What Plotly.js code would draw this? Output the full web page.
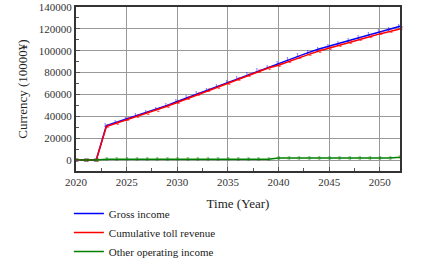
<!DOCTYPE html>
<html><head><meta charset="utf-8">
<script src="https://cdn.plot.ly/plotly-3.0.1.min.js"></script>
<style>html,body{margin:0;padding:0;background:#fff}#c{width:433px;height:273px}</style>
</head><body><div id="c"></div>
<script>
const years = [2020,2021,2022,2023,2024,2025,2026,2027,2028,2029,2030,2031,2032,2033,2034,2035,2036,2037,2038,2039,2040,2041,2042,2043,2044,2045,2046,2047,2048,2049,2050,2051,2052];
const grossIncome = [0,0,0,31500,34500,37500,40500,43500,46500,50000,53500,57000,60500,64000,67500,71000,74500,78000,81500,85000,88500,92000,95500,98500,101500,104000,106700,109300,112000,114600,117200,119800,122400];
const otherIncome = [0,0,0,800,800,800,800,800,800,800,800,800,800,800,800,800,800,800,800,800,1800,1800,1800,1800,1800,1800,1800,1800,1800,1800,1800,1800,2500];
const tollRevenue = [0,0,0,30700,33700,36700,39700,42700,45700,49200,52700,56200,59700,63200,66700,70200,73700,77200,80700,84200,86700,90200,93700,96700,99700,102200,104900,107500,110200,112800,115400,118000,119900];
const seriesNames = ["Gross income","Cumulative toll revenue","Other operating income"];
const colors = ["#0000ff","#ff0000","#008000"];
const markerText = ["1","2","3"];
const textPos = ["middle left","middle right","middle center"];
const values = [grossIncome, tollRevenue, otherIncome];
const serif = "Liberation Serif, Times New Roman, serif";

const traces = values.map((v,i)=>({
  x: years, y: v, name: seriesNames[i], type:'scatter', mode:'lines+text',
  text: years.map(()=>markerText[i]), textposition:textPos[i],
  textfont:{family:serif,size:6,color:colors[i]},
  line:{color:colors[i],width:1.5}, cliponaxis:false
}));

const layout = {
  width:433, height:273,
  margin:{l:76,r:33,t:7,b:93},
  paper_bgcolor:'#fff', plot_bgcolor:'#fff',
  showlegend:true,
  legend:{x:-0.022,y:-0.17,xanchor:'left',yanchor:'top',font:{family:serif,size:11,color:'#222'},tracegroupgap:0,itemwidth:30,bgcolor:'rgba(0,0,0,0)'},
  xaxis:{range:[2020,2052],dtick:5,tick0:2020,showgrid:true,gridcolor:'#999',gridwidth:1,
    zeroline:false,showline:true,mirror:true,linecolor:'#333',linewidth:2,
    ticks:'inside',ticklen:4,tickcolor:'#555',
    minor:{dtick:2.5,ticks:'inside',ticklen:3,tickcolor:'#555'},
    tickfont:{family:serif,size:11,color:'#333'},
    title:{text:'Time (Year)',font:{family:serif,size:13,color:'#222'},standoff:12}},
  yaxis:{range:[-10000,140000],dtick:20000,tick0:0,tickformat:'d',showgrid:true,gridcolor:'#999',gridwidth:1,
    zeroline:false,showline:true,mirror:true,linecolor:'#333',linewidth:2,
    ticks:'inside',ticklen:4,tickcolor:'#555',
    minor:{dtick:10000,ticks:'inside',ticklen:3,tickcolor:'#555'},
    tickfont:{family:serif,size:11,color:'#333'},
    title:{text:'Currency (10000¥)',font:{family:serif,size:13,color:'#222'},standoff:8}}
};
Plotly.newPlot('c',traces,layout,{displayModeBar:false,staticPlot:true});
</script></body></html>
